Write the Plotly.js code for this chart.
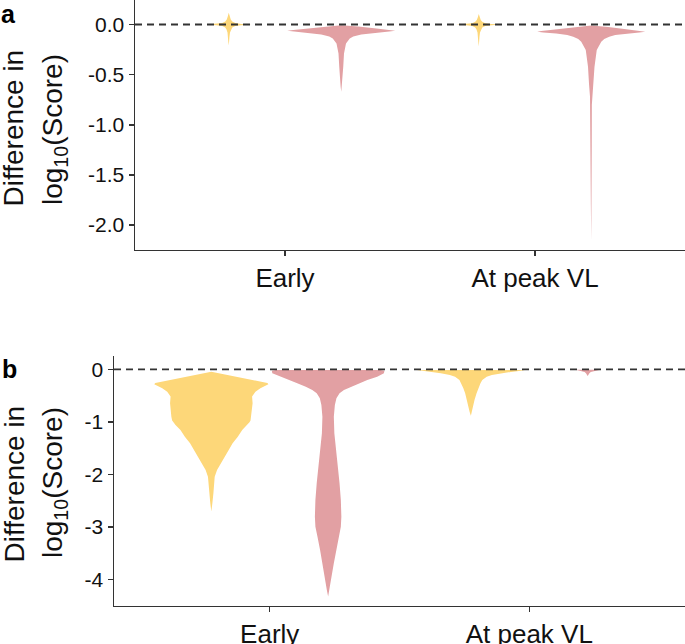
<!DOCTYPE html>
<html>
<head>
<meta charset="utf-8">
<script src="https://cdn.plot.ly/plotly-3.0.1.min.js"></script>
<style>html,body{margin:0;padding:0;background:#fff;}#chart{width:685px;height:644px;}</style>
</head>
<body>
<div id="chart"></div>
<script>
// ---------------- data ----------------
const categories = ["Early", "At peak VL"];
const seriesNames = ["Group 1", "Group 2"];   // yellow, pink

// Panel a: y ticks
const aTickVals = [0, -0.5, -1, -1.5, -2];
const aTickText = ["0.0", "-0.5", "-1.0", "-1.5", "-2.0"];
// Panel b: y ticks
const bTickVals = [0, -1, -2, -3, -4];
const bTickText = ["0", "-1", "-2", "-3", "-4"];

// Violin outlines: value levels (log10 difference) and half-width of the density (category units)
// Panel a, yellow, Early
const aYellowEarlyY = [0.118, 0.08, 0.05, 0.03, 0.015, 0.006, 0, -0.006, -0.015, -0.03, -0.05, -0.08, -0.12, -0.17, -0.21];
const aYellowEarlyW = [0, 0.004, 0.008, 0.014, 0.026, 0.05, 0.09, 0.05, 0.026, 0.014, 0.009, 0.005, 0.003, 0.002, 0];
// Panel a, pink, Early
const aPinkEarlyY = [-0.008, -0.012, -0.02, -0.038, -0.055, -0.062, -0.07, -0.082, -0.1, -0.12, -0.14, -0.19, -0.29, -0.42, -0.555, -0.62, -0.67];
const aPinkEarlyW = [0, 0.04, 0.068, 0.132, 0.192, 0.216, 0.192, 0.14, 0.08, 0.048, 0.034, 0.019, 0.011, 0.008, 0.005, 0.0024, 0];
// Panel a, yellow, At peak VL
const aYellowPeakY = [0.105, 0.07, 0.045, 0.028, 0.014, 0.006, 0, -0.006, -0.015, -0.03, -0.05, -0.08, -0.12, -0.17, -0.22];
const aYellowPeakW = [0, 0.004, 0.008, 0.014, 0.026, 0.05, 0.09, 0.05, 0.026, 0.014, 0.009, 0.005, 0.003, 0.002, 0];
// Panel a, pink, At peak VL
const aPinkPeakY = [-0.01, -0.015, -0.025, -0.048, -0.065, -0.072, -0.08, -0.09, -0.105, -0.122, -0.145, -0.172, -0.255, -0.42, -0.59, -0.72, -0.8, -1.2, -1.8, -2.155];
const aPinkPeakW = [0, 0.04, 0.068, 0.14, 0.2, 0.216, 0.192, 0.14, 0.096, 0.072, 0.052, 0.04, 0.022, 0.013, 0.009, 0.005, 0.0024, 0.002, 0.0016, 0];

// Panel b, yellow, Early
const bYellowEarlyY = [-0.045, -0.109, -0.172, -0.236, -0.262, -0.285, -0.31, -0.362, -0.426, -0.52, -0.648, -0.775, -0.903, -0.975, -1.01, -1.06, -1.156, -1.283, -1.41, -1.537, -1.665, -1.79, -1.918, -2.045, -2.17, -2.36, -2.55, -2.71];
const bYellowEarlyW = [0, 0.062, 0.127, 0.189, 0.216, 0.220, 0.210, 0.189, 0.170, 0.157, 0.159, 0.157, 0.154, 0.151, 0.147, 0.138, 0.119, 0.102, 0.082, 0.067, 0.051, 0.037, 0.022, 0.013, 0.010, 0.008, 0.004, 0];
// Panel b, pink, Early
const bPinkEarlyY = [-0.012, -0.026, -0.077, -0.140, -0.204, -0.267, -0.331, -0.394, -0.458, -0.553, -0.680, -0.902, -1.22, -1.537, -1.855, -2.172, -2.49, -2.807, -2.998, -3.188, -3.442, -3.696, -3.950, -4.204, -4.33];
const bPinkEarlyW = [0.201, 0.217, 0.215, 0.189, 0.151, 0.119, 0.086, 0.061, 0.044, 0.032, 0.026, 0.022, 0.024, 0.031, 0.037, 0.044, 0.049, 0.051, 0.049, 0.041, 0.031, 0.022, 0.013, 0.005, 0];
// Panel b, yellow, At peak VL
const bYellowPeakY = [-0.013, -0.03, -0.051, -0.077, -0.109, -0.14, -0.204, -0.267, -0.362, -0.458, -0.585, -0.712, -0.807, -0.883];
const bYellowPeakW = [0.208, 0.193, 0.154, 0.116, 0.081, 0.061, 0.044, 0.037, 0.029, 0.022, 0.014, 0.009, 0.005, 0];
// Panel b, pink, At peak VL
const bPinkPeakY = [-0.01, -0.026, -0.051, -0.077, -0.128];
const bPinkPeakW = [0.048, 0.031, 0.012, 0.0066, 0];

// ---------------- styling ----------------
const YELLOW = "#FDD779";
const PINK = "#E2A0A3";
const DODGE = 0.225;
const FONT = '"Liberation Sans", Arial, Helvetica, sans-serif';
const AX = "#333333";

function violin(catIndex, side, ys, ws, color, xa, ya, name) {
  const c = (catIndex + 1) + side * DODGE;
  const xs = [], yy = [];
  for (let i = 0; i < ys.length; i++) { xs.push(c + ws[i]); yy.push(ys[i]); }
  for (let i = ys.length - 1; i >= 0; i--) { xs.push(c - ws[i]); yy.push(ys[i]); }
  return {
    type: "scatter", mode: "lines", x: xs, y: yy, fill: "toself",
    fillcolor: color, line: {width: 0, color: color}, line_shape: "spline",
    xaxis: xa, yaxis: ya, name: name, showlegend: false, hoverinfo: "skip"
  };
}

const traces = [
  violin(0, -1, aYellowEarlyY, aYellowEarlyW, YELLOW, "x", "y", seriesNames[0]),
  violin(0,  1, aPinkEarlyY,   aPinkEarlyW,   PINK,   "x", "y", seriesNames[1]),
  violin(1, -1, aYellowPeakY,  aYellowPeakW,  YELLOW, "x", "y", seriesNames[0]),
  violin(1,  1, aPinkPeakY,    aPinkPeakW,    PINK,   "x", "y", seriesNames[1]),
  violin(0, -1, bYellowEarlyY, bYellowEarlyW, YELLOW, "x2", "y2", seriesNames[0]),
  violin(0,  1, bPinkEarlyY,   bPinkEarlyW,   PINK,   "x2", "y2", seriesNames[1]),
  violin(1, -1, bYellowPeakY,  bYellowPeakW,  YELLOW, "x2", "y2", seriesNames[0]),
  violin(1,  1, bPinkPeakY,    bPinkPeakW,    PINK,   "x2", "y2", seriesNames[1])
];

const W = 685, H = 644;
const px = v => v / W;
const py = v => 1 - v / H;

function xAxis(dom, anchor) {
  return {
    domain: dom, anchor: anchor, range: [0.4, 2.6],
    tickmode: "array", tickvals: [1, 2], ticktext: categories,
    showline: true, linecolor: AX, linewidth: 1.5, mirror: false,
    ticks: "outside", ticklen: 5, tickwidth: 1.5, tickcolor: AX,
    tickfont: {family: FONT, size: 26, color: "#111"},
    showgrid: false, zeroline: false, fixedrange: true
  };
}
function yAxis(dom, anchor, range, tv, tt) {
  return {
    domain: dom, anchor: anchor, range: range,
    tickmode: "array", tickvals: tv, ticktext: tt,
    showline: true, linecolor: AX, linewidth: 1.5,
    ticks: "outside", ticklen: 5, tickwidth: 1.5, tickcolor: AX,
    tickfont: {family: FONT, size: 21, color: "#111"},
    showgrid: false, zeroline: false, fixedrange: true
  };
}

const titleFont = {family: FONT, size: 28, color: "#111"};
const letterFont = {family: FONT, size: 25, color: "#000", weight: "bold"};

const layout = {
  width: W, height: H,
  margin: {l: 0, r: 0, t: 0, b: 0, pad: 0},
  paper_bgcolor: "#fff", plot_bgcolor: "#fff",
  showlegend: false,
  xaxis: xAxis([px(135), 1], "y"),
  yaxis: yAxis([py(249.5), 1], "x", [-2.245, 0.245], aTickVals, aTickText),
  xaxis2: xAxis([px(114), 1], "y2"),
  yaxis2: yAxis([py(605.7), py(356)], "x2", [-4.503, 0.253], bTickVals, bTickText),
  shapes: [
    {type: "line", xref: "x domain", yref: "y", x0: 0, x1: 1, y0: 0, y1: 0,
     line: {color: AX, width: 2, dash: "7px,5px"}, layer: "above"},
    {type: "line", xref: "x2 domain", yref: "y2", x0: 0, x1: 1, y0: 0, y1: 0,
     line: {color: AX, width: 1.7, dash: "7px,5px"}, layer: "above"}
  ],
  annotations: [
    {text: "a", xref: "paper", yref: "paper", x: px(-1), y: py(14.5), xanchor: "left", yanchor: "middle", showarrow: false, font: letterFont},
    {text: "b", xref: "paper", yref: "paper", x: px(0), y: py(369), xanchor: "left", yanchor: "middle", showarrow: false, font: letterFont},
    {text: "Difference in", xref: "paper", yref: "paper", x: px(13.5), y: py(128), xanchor: "center", yanchor: "middle", textangle: -90, showarrow: false, font: titleFont},
    {text: "log<sub>10</sub>(Score)", xref: "paper", yref: "paper", x: px(54), y: py(130), xanchor: "center", yanchor: "middle", textangle: -90, showarrow: false, font: titleFont},
    {text: "Difference in", xref: "paper", yref: "paper", x: px(13.5), y: py(484), xanchor: "center", yanchor: "middle", textangle: -90, showarrow: false, font: titleFont},
    {text: "log<sub>10</sub>(Score)", xref: "paper", yref: "paper", x: px(54), y: py(483), xanchor: "center", yanchor: "middle", textangle: -90, showarrow: false, font: titleFont}
  ]
};

Plotly.newPlot("chart", traces, layout, {staticPlot: true, displayModeBar: false});
</script>
</body>
</html>
